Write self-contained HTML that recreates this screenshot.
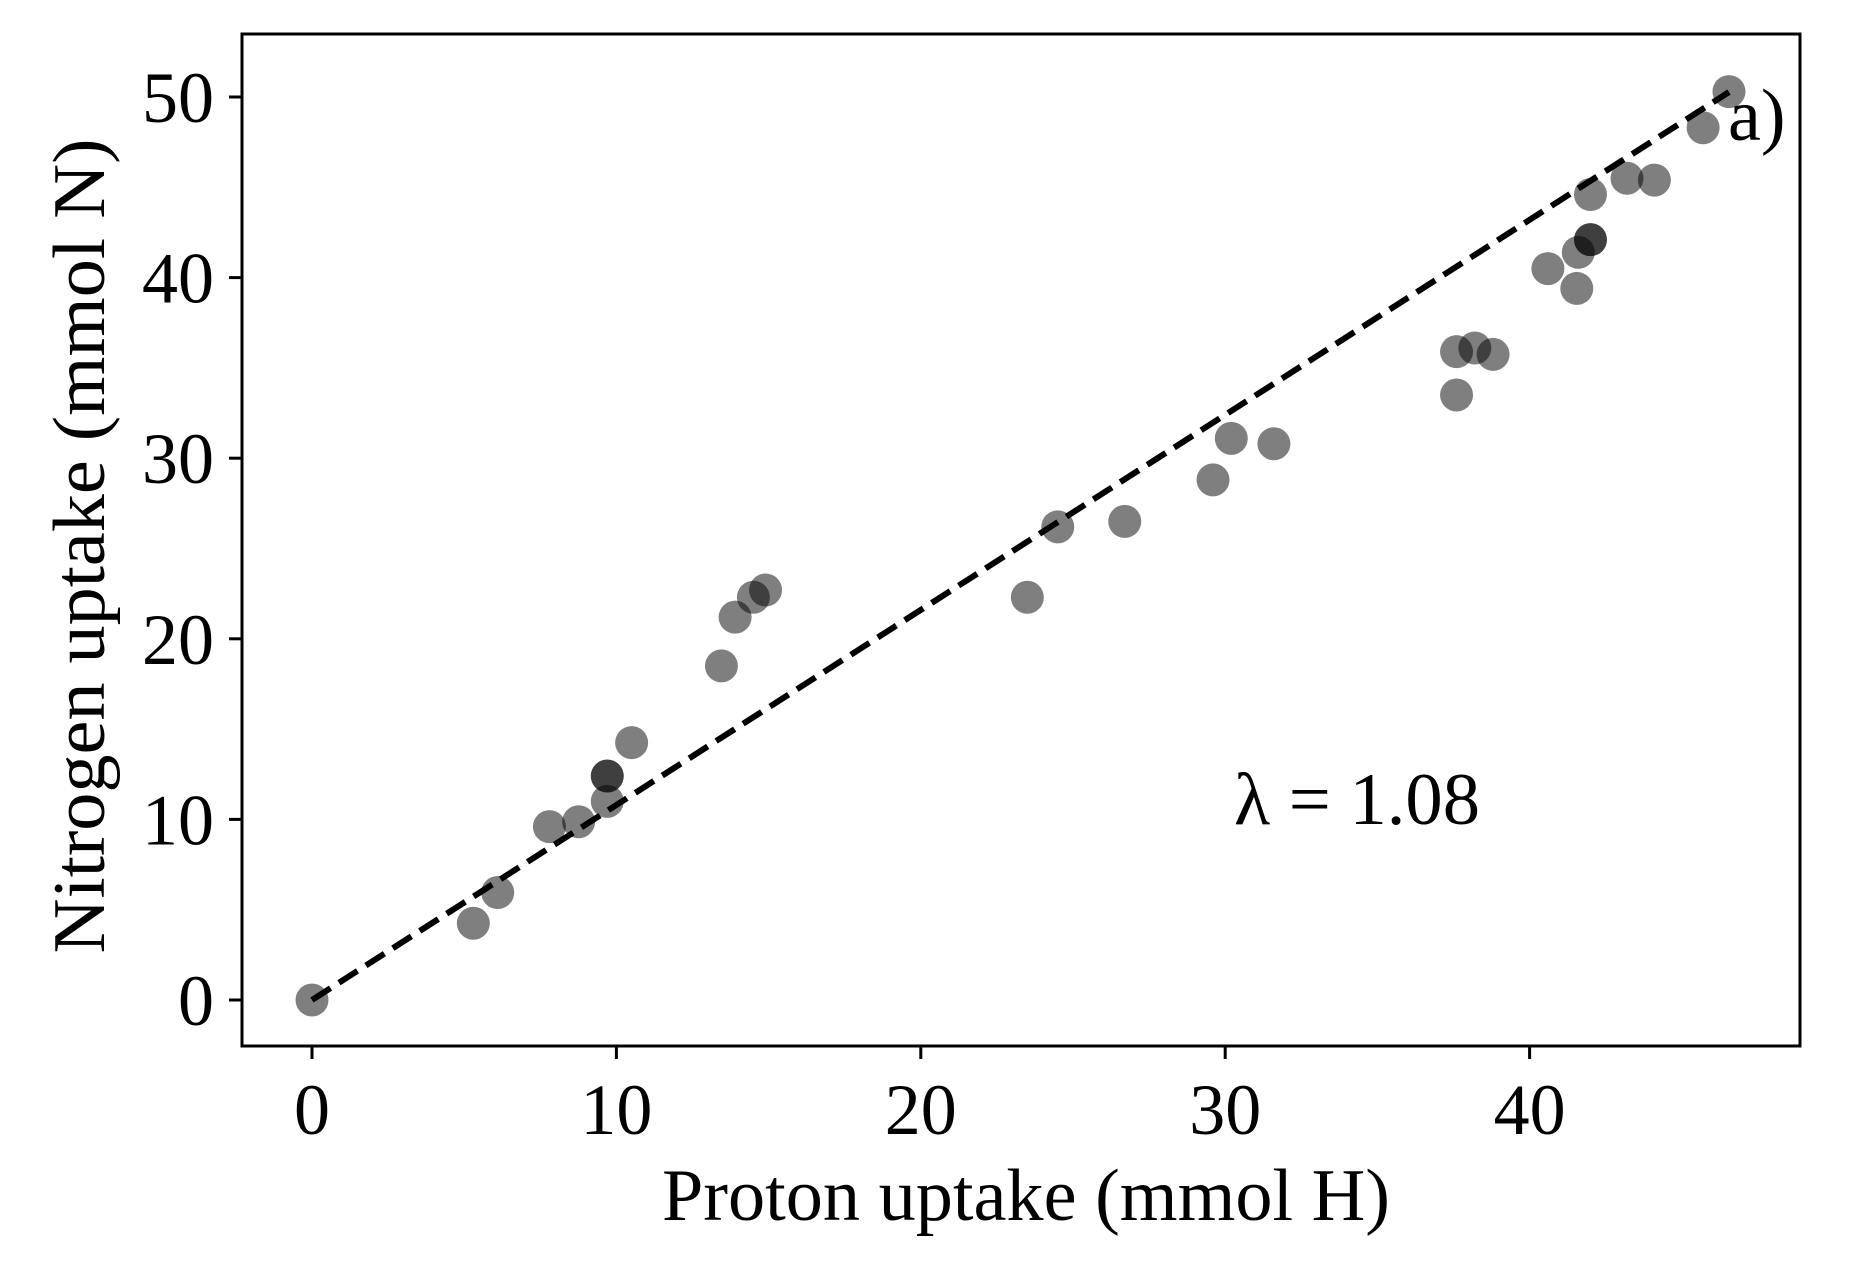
<!DOCTYPE html>
<html><head><meta charset="utf-8"><style>
html,body{margin:0;padding:0;background:#fff;}
svg text{font-family:"Liberation Serif",serif;fill:#000;}
</style></head><body>
<svg id="chart" width="1850" height="1271" xmlns="http://www.w3.org/2000/svg">
<rect x="0" y="0" width="1850" height="1271" fill="#fff"/>
<g id="plot"></g>
<rect x="242" y="34" width="1558" height="1012" fill="none" stroke="#000" stroke-width="3"/>
<g id="xt"></g>
<g id="yt"></g>
<text x="1026" y="1220" font-size="74" text-anchor="middle" textLength="728" lengthAdjust="spacingAndGlyphs">Proton uptake (mmol H)</text>
<text transform="translate(104,546) rotate(-90)" font-size="74" text-anchor="middle" textLength="815" lengthAdjust="spacingAndGlyphs">Nitrogen uptake (mmol N)</text>
<text x="1234" y="824" font-size="74" textLength="246" lengthAdjust="spacingAndGlyphs">λ = 1.08</text>
<text x="1728" y="140" font-size="74">a)</text>
</svg>
<script>
const xVals=[0,5.3,6.1,7.8,8.76,9.7,9.7,9.7,10.5,13.45,13.9,14.5,14.9,23.5,24.5,26.7,29.6,30.2,31.6,37.6,37.6,38.2,38.8,40.6,41.55,41.6,42.0,42.0,42.0,43.2,44.1,45.7,46.55];
const yVals=[0,4.25,5.95,9.6,9.87,11.0,12.4,12.4,14.25,18.5,21.2,22.3,22.7,22.3,26.2,26.5,28.8,31.1,30.8,33.5,35.9,36.1,35.75,40.5,39.4,41.4,42.1,42.1,44.6,45.5,45.4,48.3,50.3];
const xTicks=[0,10,20,30,40];
const yTicks=[0,10,20,30,40,50];
const slope=1.08;
const fitRange=[0,46.55];
const NS="http://www.w3.org/2000/svg";
const X=v=>312+v*30.44;
const Y=v=>1000-v*18.06;
function mk(t,a,p){const e=document.createElementNS(NS,t);for(const k in a)e.setAttribute(k,a[k]);p.appendChild(e);return e;}
const plot=document.getElementById('plot');
xVals.forEach((x,i)=>{
 const c=mk('circle',{cx:X(x),cy:Y(yVals[i]),r:16.5,fill:'#000','fill-opacity':0.5},plot);
 
 
});
const l=mk('line',{x1:X(fitRange[0]),y1:Y(fitRange[0]*slope),x2:X(fitRange[1]),y2:Y(fitRange[1]*slope),stroke:'#000','stroke-width':6,'stroke-dasharray':'22 10'},plot);


const xt=document.getElementById('xt'),yt=document.getElementById('yt');
xTicks.forEach(v=>{
 const tk=mk('line',{x1:X(v),y1:1046,x2:X(v),y2:1059,stroke:'#000','stroke-width':3},xt);
 
 
 const t=mk('text',{x:X(v),y:1134,'font-size':72,'text-anchor':'middle'},xt);t.textContent=v;
 
 
});
yTicks.forEach(v=>{
 const tk=mk('line',{x1:229,y1:Y(v),x2:242,y2:Y(v),stroke:'#000','stroke-width':3},yt);
 
 
 const t=mk('text',{x:214,y:Y(v)+25,'font-size':72,'text-anchor':'end'},yt);t.textContent=v;
 
 
});
</script>
</body></html>
